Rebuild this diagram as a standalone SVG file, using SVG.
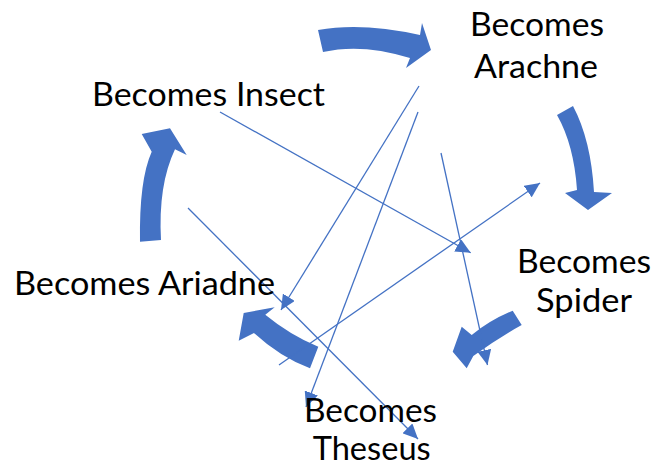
<svg xmlns="http://www.w3.org/2000/svg" width="655" height="467" viewBox="0 0 655 467">
<style>
.lbl{font-family:Lato,"Open Sans","Liberation Sans",sans-serif;font-size:32px;fill:#000}
.blk{fill:#4472C4;stroke:none}
.thin{stroke:#4472C4;stroke-width:1.3;fill:none;marker-end:url(#ah)}
</style>
<defs>
<marker id="ah" markerUnits="userSpaceOnUse" markerWidth="16" markerHeight="14" refX="15" refY="7" orient="auto" viewBox="0 0 16 14">
<path d="M0,0 L15,7 L0,14 Z" fill="#4472C4"/>
</marker>
</defs>
<rect width="655" height="467" fill="#fff"/>
<g id="connectors">
<path class="blk" d="M318,30 Q362,22 420,35 L422,23 L431,50 L406,68 L410,58 Q362,43 323,52 Z"/>
<path class="blk" d="M573,106 Q591,140 594,192 L612,193 L588,210 L565,193 L577,190 Q574,145 557,115 Z"/>
<path class="blk" d="M512.7,310.7 Q490,320 471.7,335 L461.7,326.7 L452.7,351.7 L466.7,368.3 L473.3,356 Q498,338 521.7,325 Z"/>
<path class="blk" d="M243.7,313 L274.7,307.3 L265.3,314.7 Q290,335 318.3,346.7 L310,368.3 Q280,357 254,333 L238.7,340.7 Z"/>
<path class="blk" d="M140,241.7 Q139,180 151.7,151.7 L141.7,134 L170,128.3 L186.7,155 L175,149.3 Q158,185 161,240 Z"/>
<line class="thin" x1="419" y1="86" x2="281" y2="310"/>
<line class="thin" x1="418" y1="112" x2="306" y2="407"/>
<line class="thin" x1="441" y1="153" x2="487.5" y2="365"/>
<line class="thin" x1="220" y1="112" x2="470.7" y2="252.7"/>
<line class="thin" x1="279" y1="365" x2="540" y2="183"/>
<line class="thin" x1="188" y1="208" x2="418" y2="439"/>
</g>
<g id="node-arachne">
<text class="lbl" x="470" y="36" textLength="134" lengthAdjust="spacingAndGlyphs">Becomes</text>
<text class="lbl" x="474" y="78" textLength="124" lengthAdjust="spacingAndGlyphs">Arachne</text>
</g>
<g id="node-spider">
<text class="lbl" x="517" y="272.7" textLength="134" lengthAdjust="spacingAndGlyphs">Becomes</text>
<text class="lbl" x="536" y="311.7" textLength="96" lengthAdjust="spacingAndGlyphs">Spider</text>
</g>
<g id="node-theseus">
<text class="lbl" x="304" y="422" textLength="133" lengthAdjust="spacingAndGlyphs">Becomes</text>
<text class="lbl" x="312.7" y="460" textLength="118" lengthAdjust="spacingAndGlyphs">Theseus</text>
</g>
<g id="node-ariadne">
<text class="lbl" x="14" y="295" textLength="261" lengthAdjust="spacingAndGlyphs">Becomes Ariadne</text>
</g>
<g id="node-insect">
<text class="lbl" x="92" y="105.7" textLength="233" lengthAdjust="spacingAndGlyphs">Becomes Insect</text>
</g>
</svg>
